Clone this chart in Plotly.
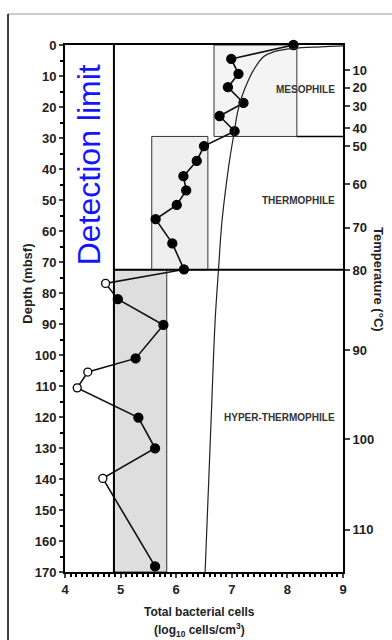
import plotly.graph_objects as go

# ---- data ----
depth_mbsf = [0, 4.5, 9.3, 13.6, 18.7, 22.9, 27.8, 32.6, 37.4, 42.3, 46.9, 51.6, 56.2,
              64.0, 72.4, 76.9, 82.0, 90.3, 101.1, 105.5, 110.6, 120.2, 130.1, 139.8, 168.2]
log_cells = [8.11, 6.99, 7.12, 6.93, 7.21, 6.78, 7.05, 6.50, 6.37, 6.13, 6.18, 6.01, 5.63,
             5.93, 6.14, 4.73, 4.95, 5.77, 5.27, 4.41, 4.22, 5.32, 5.62, 4.68, 5.62]
detected = [1, 1, 1, 1, 1, 1, 1, 1, 1, 1, 1, 1, 1,
            1, 1, 0, 1, 1, 1, 0, 0, 1, 1, 0, 1]

# temperature profile (drawn in the cell-count frame)
temp_curve_x = [9.0, 8.6, 8.11, 7.75, 7.57, 7.39, 7.30, 7.18, 7.10, 7.05, 6.97, 6.91, 6.82, 6.76, 6.70, 6.63, 6.52]
temp_curve_depth = [0.3, 0.6, 1.1, 2.2, 3.8, 8.1, 11.3, 16.7, 22.0, 27.4, 36.0, 43.6, 57.5, 72.6, 89.0, 120.0, 170.0]

# temperature axis (°C) and depth where each is reached
temp_labels = [10, 20, 30, 40, 50, 60, 70, 80, 90, 100, 110]
temp_depths = [8.1, 13.8, 19.7, 26.9, 32.6, 44.9, 58.9, 72.6, 98.4, 127.2, 156.3]

detection_limit = 4.88
zones = ["MESOPHILE", "THERMOPHILE", "HYPER-THERMOPHILE"]
zone_x0 = [6.68, 5.56, 4.88]
zone_x1 = [8.17, 6.57, 5.83]
zone_top = [0, 29.5, 72.5]
zone_bottom = [29.5, 72.5, 170]
zone_fill = ["#f4f4f4", "#efefef", "#dedede"]
zone_label_depth = [14.2, 50.3, 120.1]

x_range = [4, 9]
depth_range = [170, 0]

fig = go.Figure()

# zone boxes
for x0, x1, y0, y1, c in zip(zone_x0, zone_x1, zone_top, zone_bottom, zone_fill):
    fig.add_shape(type="rect", xref="x", yref="y", x0=x0, x1=x1, y0=y0, y1=y1,
                  fillcolor=c, line=dict(color="#333", width=1), layer="below")

# zone separation lines
fig.add_shape(type="line", xref="x", yref="y", x0=zone_x1[0], x1=x_range[1],
              y0=zone_bottom[0], y1=zone_bottom[0], line=dict(color="black", width=1.5))
fig.add_shape(type="line", xref="x", yref="y", x0=detection_limit, x1=x_range[1],
              y0=zone_bottom[1], y1=zone_bottom[1], line=dict(color="black", width=2))
# detection limit
fig.add_shape(type="line", xref="x", yref="y", x0=detection_limit, x1=detection_limit,
              y0=depth_range[1], y1=depth_range[0], line=dict(color="black", width=2))

# temperature curve
fig.add_trace(go.Scatter(x=temp_curve_x, y=temp_curve_depth, mode="lines",
                         line=dict(color="#222", width=1.2, shape="spline"),
                         yaxis="y2", hoverinfo="skip", showlegend=False))

# cell counts
fig.add_trace(go.Scatter(
    x=log_cells, y=depth_mbsf, mode="lines+markers",
    line=dict(color="#111", width=1.6),
    marker=dict(size=[9 if d else 8 for d in detected],
                color=["#000000" if d else "#ffffff" for d in detected],
                opacity=1,
                line=dict(color="black", width=1.3)),
    cliponaxis=False, showlegend=False))

font_family = "Arial, Liberation Sans, sans-serif"
for name, y in zip(zones, zone_label_depth):
    fig.add_annotation(x=8.89, y=y, xref="x", yref="y", text=name, showarrow=False,
                       xanchor="right", yanchor="middle",
                       font=dict(size=10, color="#333", family=font_family, weight="bold"))

fig.add_annotation(x=4.43, y=38.5, xref="x", yref="y", text="Detection limit", textangle=-90,
                   showarrow=False, xanchor="center", yanchor="middle",
                   font=dict(size=32, color="#1515ff", family=font_family))

# axis titles
fig.add_annotation(x=-0.135, y=0.548, xref="paper", yref="paper", text="Depth (mbsf)",
                   textangle=-90, showarrow=False, xanchor="center", yanchor="middle",
                   font=dict(size=13, color="#222", family=font_family, weight="bold"))
fig.add_annotation(x=1.126, y=0.556, xref="paper", yref="paper", text="Temperature (°C)",
                   textangle=90, showarrow=False, xanchor="center", yanchor="middle",
                   font=dict(size=13, color="#222", family=font_family, weight="bold"))
fig.add_annotation(x=0.4856, y=-0.0753, xref="paper", yref="paper", text="Total bacterial cells",
                   showarrow=False, xanchor="center", yanchor="middle",
                   font=dict(size=12, color="#222", family=font_family, weight="bold"))
fig.add_annotation(x=0.4856, y=-0.111, xref="paper", yref="paper",
                   text="(log<sub>10</sub> cells/cm<sup>3</sup>)",
                   showarrow=False, xanchor="center", yanchor="middle",
                   font=dict(size=12, color="#222", family=font_family, weight="bold"))

# outer frame
fig.add_shape(type="line", xref="paper", yref="paper", x0=-0.205, x1=1.2, y0=1.0588, y1=1.0588,
              line=dict(color="#999", width=1.2))
fig.add_shape(type="line", xref="paper", yref="paper", x0=-0.205, x1=-0.205, y0=1.0588, y1=-0.14,
              line=dict(color="black", width=1.5))

tickfont = dict(size=13, color="#222", family=font_family, weight="bold")
fig.update_layout(
    width=392, height=640,
    margin=dict(l=65, r=49, t=45, b=68),
    paper_bgcolor="white", plot_bgcolor="white",
    xaxis=dict(range=x_range, dtick=1, ticks="outside", ticklen=4, tickwidth=1.5,
               showline=True, linecolor="black", linewidth=2, mirror=True,
               showgrid=False, zeroline=False, tickfont=tickfont,
               minor=dict(dtick=0.1, ticks="outside", ticklen=2.5, tickcolor="black")),
    yaxis=dict(range=depth_range, dtick=10, ticks="outside", ticklen=4, tickwidth=1.5,
               showline=True, linecolor="black", linewidth=2, mirror=True,
               showgrid=False, zeroline=False, tickfont=tickfont,
               minor=dict(dtick=5, ticks="outside", ticklen=3, tickcolor="black")),
    yaxis2=dict(range=depth_range, overlaying="y", side="right", tickmode="array",
                tickvals=temp_depths, ticktext=[str(t) for t in temp_labels],
                ticks="outside", ticklen=5, tickwidth=1.5, showline=True, linecolor="black",
                linewidth=2, showgrid=False, zeroline=False, tickfont=tickfont),
)

fig.write_html("out.html")
